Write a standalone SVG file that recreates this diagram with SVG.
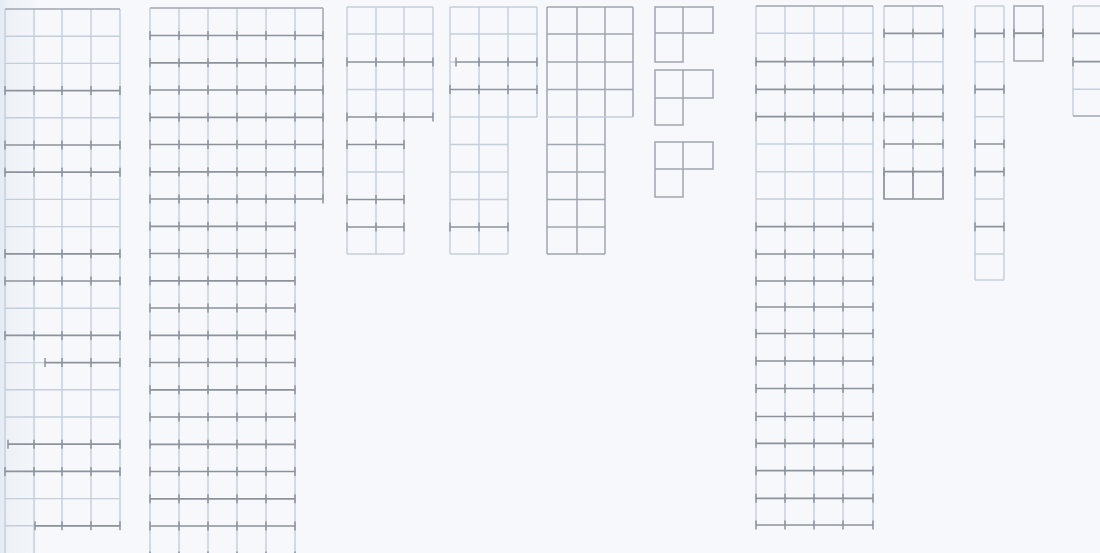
<svg xmlns="http://www.w3.org/2000/svg" width="1100" height="553" viewBox="0 0 1100 553">
<defs>
<marker id="tk" markerWidth="4" markerHeight="10" refX="2" refY="5" markerUnits="userSpaceOnUse" orient="0"><path d="M2 0.5V9.5" stroke="#8d929b" stroke-width="1.5"/></marker>
<linearGradient id="band" x1="0" y1="0" x2="1" y2="0">
<stop offset="0" stop-color="#e4eaf3"/>
<stop offset="0.25" stop-color="#eef2f8"/>
<stop offset="1" stop-color="#f3f6fa"/>
</linearGradient>
<style>
.lt{stroke:#c5cedb;stroke-width:1.4;fill:none}
.md{stroke:#a1a7b1;stroke-width:1.5;fill:none}
.dk{stroke:#8d929b;stroke-width:1.7;fill:none;marker-start:url(#tk);marker-mid:url(#tk);marker-end:url(#tk)}
.pl{stroke:#8d929b;stroke-width:1.7;fill:none}
</style>
</defs>
<rect width="1100" height="553" fill="#f6f8fb"/>
<rect x="0" y="0" width="36" height="553" fill="url(#band)"/>

<g id="grid1">
<path class="lt" d="M5 9V553M34 9V553M62 9V526M91 9V526M120 9V526"/>
<path class="lt" d="M5 36.2H120M5 63.4H120M5 117.8H120M5 199.4H120M5 226.6H120M5 308.2H120M5 389.8H120M5 417H120M5 498.6H120M5 362.6H45M5 525.8H35"/>
<path class="md" d="M5 9H120"/>
<path class="dk" d="M5 90.6H34H62H91H120M5 145H34H62H91H120M5 172.2H34H62H91H120M5 253.8H34H62H91H120M5 281H34H62H91H120M5 335.4H34H62H91H120M45 362.6H62H91H120M8 444.2H34H62H91H120M5 471.4H34H62H91H120M35 525.8H62H91H120"/>
</g>

<g id="grid2">
<path class="lt" d="M150 8V553M179 8V553M208 8V553M237 8V553M266 8V553M295 8V553"/>
<path class="md" d="M150 8H323M323 8V199"/>
<path class="dk" d="M150 35.5H179H208H237H266H295H323M150 62.8H179H208H237H266H295H323M150 90H179H208H237H266H295H323M150 117.3H179H208H237H266H295H323M150 144.5H179H208H237H266H295H323M150 171.8H179H208H237H266H295H323M150 199H179H208H237H266H295H323"/>
<path class="dk" d="M150 226.3H179H208H237H266H295M150 253.5H179H208H237H266H295M150 280.8H179H208H237H266H295M150 308H179H208H237H266H295M150 335.3H179H208H237H266H295M150 362.5H179H208H237H266H295M150 389.8H179H208H237H266H295M150 417H179H208H237H266H295M150 444.3H179H208H237H266H295M150 471.5H179H208H237H266H295M150 498.8H179H208H237H266H295M150 526H179H208H237H266H295M150 556H179H208H237H266H295"/>
</g>

<g id="grid3">
<path class="lt" d="M347 7V254M376 7V254M404 7V254M433 7V117"/>
<path class="lt" d="M347 7H433M347 34H433M347 89.5H433M347 172H404M347 254H404"/>
<path class="dk" d="M347 62H376H404H433M347 117H376H404H433M347 144.5H376H404M347 199.5H376H404M347 227H376H404"/>
</g>

<g id="grid4">
<path class="lt" d="M450 7V254M479 7V254M508 7V254M537 7V117"/>
<path class="lt" d="M450 7H537M450 34H537M450 117H537M450 62H456M450 144.5H508M450 172H508M450 199.5H508M450 254H508"/>
<path class="dk" d="M456 62H479H508H537M450 89.5H479H508H537M450 227H479H508"/>
</g>

<g id="grid5">
<path class="md" d="M547 7V254M577 7V254M605 7V254M633 7V117"/>
<path class="md" d="M547 7H633M547 34H633M547 62H633M547 89.5H633M547 144.5H605M547 172H605M547 199.5H605M547 227H605M547 254H605"/>
<path class="lt" d="M547 117H633"/>
</g>

<g id="l-shape-1">
<path class="md" d="M655 7H713V33H683V62H655ZM683 7V33M655 33H683"/>
</g>
<g id="l-shape-2">
<path class="md" d="M655 70H713V98H683V125H655ZM683 70V98M655 98H683"/>
</g>
<g id="l-shape-3">
<path class="md" d="M655 142H713V169H683V197H655ZM683 142V169M655 169H683"/>
</g>

<g id="grid6">
<path class="lt" d="M756 6V525M785 6V525M814 6V525M843 6V525M873 6V525"/>
<path class="md" d="M756 6H873"/>
<path class="lt" d="M756 33.3H873M756 144H873M756 171.7H873M756 199H873"/>
<path class="dk" d="M756 61.7H785H814H843H873M756 89.3H785H814H843H873M756 116.7H785H814H843H873M756 226.7H785H814H843H873M756 254H785H814H843H873M756 281H785H814H843H873M756 307H785H814H843H873M756 333.5H785H814H843H873M756 361H785H814H843H873M756 388.5H785H814H843H873M756 416.5H785H814H843H873M756 443.3H785H814H843H873M756 470.7H785H814H843H873M756 498.3H785H814H843H873M756 525H785H814H843H873"/>
</g>

<g id="grid7">
<path class="lt" d="M884 6V172M913 6V172M943 6V172"/>
<path class="pl" d="M884 172V199H943V172M913 172V199"/>
<path class="md" d="M884 6H943"/>
<path class="lt" d="M884 61.7H943"/>
<path class="dk" d="M884 33.3H913H943M884 89.3H913H943M884 116.7H913H943M884 144H913H943M884 171.7H913H943"/>
</g>

<g id="strip">
<path class="lt" d="M975 6V280M1004 6V280M975 6H1004M975 61.7H1004M975 116.7H1004M975 199H1004M975 254H1004M975 280H1004"/>
<path class="dk" d="M975 33.3H1004M975 89.3H1004M975 144H1004M975 171.7H1004M975 226.7H1004"/>
</g>

<g id="small">
<path class="md" d="M1014 6H1043V61H1014ZM1014 33.3H1043"/>
<path class="dk" d="M1014 33.3H1043"/>
</g>

<g id="partial">
<path class="lt" d="M1073 6V116M1073 6H1100M1073 89.3H1100"/>
<path class="md" d="M1073 116H1100"/>
<path class="dk" d="M1073 33.3H1102M1073 61.7H1102"/>
</g>
</svg>
